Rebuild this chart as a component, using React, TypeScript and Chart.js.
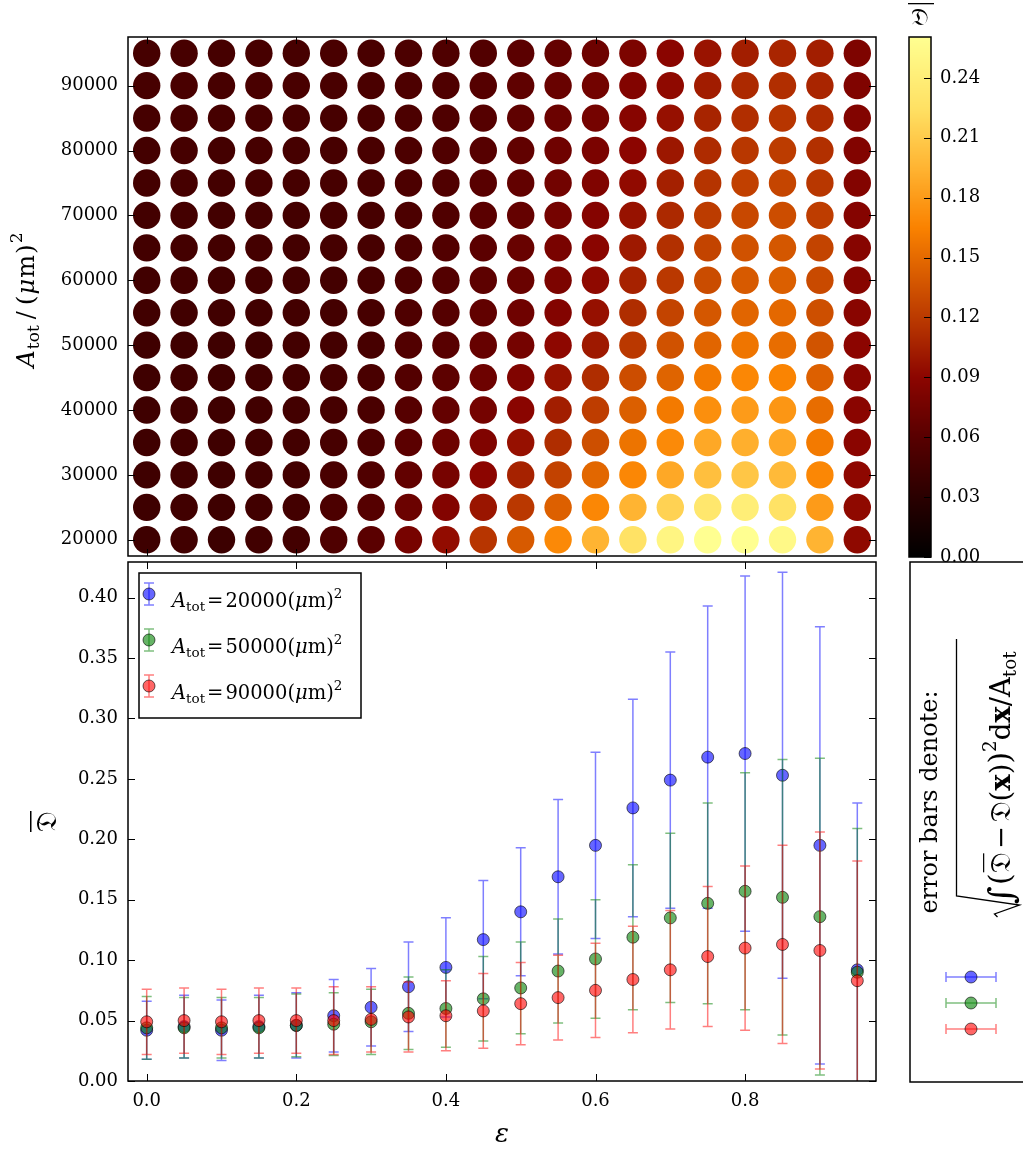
import React, { useEffect, useRef } from "react";
import { Chart, registerables } from "chart.js";

Chart.register(...registerables);

const SERIF = "'DejaVu Serif', 'Liberation Serif', serif";

// ---------------- data ----------------
const epsilonValues = [0, 0.05, 0.1, 0.15, 0.2, 0.25, 0.3, 0.35, 0.4, 0.45, 0.5, 0.55, 0.6, 0.65, 0.7, 0.75, 0.8, 0.85, 0.9, 0.95];
const areaLevels = [20000, 25000, 30000, 35000, 40000, 45000, 50000, 55000, 60000, 65000, 70000, 75000, 80000, 85000, 90000, 95000];

// mean D for every (area, epsilon) cell, one row per area level (bottom to top)
const heatRow20000 = [0.043, 0.045, 0.042, 0.045, 0.046, 0.054, 0.061, 0.078, 0.094, 0.117, 0.140, 0.169, 0.195, 0.226, 0.249, 0.268, 0.271, 0.253, 0.195, 0.092];
const heatRow25000 = [0.043, 0.045, 0.043, 0.045, 0.046, 0.052, 0.058, 0.071, 0.085, 0.099, 0.119, 0.144, 0.168, 0.195, 0.215, 0.232, 0.240, 0.226, 0.180, 0.092];
const heatRow30000 = [0.044, 0.045, 0.044, 0.045, 0.046, 0.050, 0.055, 0.066, 0.078, 0.090, 0.106, 0.125, 0.148, 0.168, 0.188, 0.202, 0.207, 0.199, 0.168, 0.091];
const heatRow35000 = [0.044, 0.045, 0.044, 0.045, 0.046, 0.049, 0.053, 0.062, 0.072, 0.083, 0.096, 0.112, 0.133, 0.156, 0.170, 0.188, 0.192, 0.187, 0.160, 0.089];
const heatRow40000 = [0.044, 0.045, 0.044, 0.045, 0.046, 0.048, 0.051, 0.059, 0.067, 0.077, 0.089, 0.104, 0.122, 0.143, 0.160, 0.173, 0.180, 0.177, 0.152, 0.089];
const heatRow45000 = [0.044, 0.045, 0.044, 0.045, 0.046, 0.048, 0.050, 0.057, 0.063, 0.072, 0.083, 0.097, 0.112, 0.132, 0.146, 0.160, 0.168, 0.166, 0.144, 0.088];
const heatRow50000 = [0.044, 0.044, 0.044, 0.044, 0.046, 0.047, 0.049, 0.056, 0.060, 0.068, 0.077, 0.091, 0.101, 0.119, 0.135, 0.147, 0.157, 0.152, 0.136, 0.090];
const heatRow55000 = [0.045, 0.045, 0.045, 0.045, 0.046, 0.047, 0.049, 0.054, 0.058, 0.065, 0.073, 0.085, 0.096, 0.112, 0.126, 0.138, 0.147, 0.149, 0.133, 0.088];
const heatRow60000 = [0.045, 0.046, 0.045, 0.046, 0.046, 0.047, 0.049, 0.053, 0.057, 0.063, 0.070, 0.081, 0.092, 0.106, 0.119, 0.131, 0.140, 0.143, 0.130, 0.087];
const heatRow65000 = [0.046, 0.047, 0.046, 0.047, 0.047, 0.048, 0.049, 0.053, 0.056, 0.062, 0.069, 0.079, 0.089, 0.101, 0.114, 0.126, 0.135, 0.138, 0.126, 0.087];
const heatRow70000 = [0.046, 0.047, 0.046, 0.047, 0.047, 0.048, 0.049, 0.052, 0.055, 0.061, 0.067, 0.077, 0.086, 0.097, 0.110, 0.121, 0.129, 0.132, 0.122, 0.086];
const heatRow75000 = [0.047, 0.048, 0.047, 0.048, 0.048, 0.049, 0.050, 0.052, 0.055, 0.060, 0.066, 0.075, 0.083, 0.093, 0.105, 0.116, 0.124, 0.127, 0.118, 0.085];
const heatRow80000 = [0.047, 0.048, 0.047, 0.048, 0.048, 0.049, 0.050, 0.052, 0.055, 0.059, 0.065, 0.073, 0.080, 0.090, 0.100, 0.111, 0.118, 0.121, 0.114, 0.084];
const heatRow85000 = [0.048, 0.049, 0.048, 0.049, 0.049, 0.049, 0.050, 0.052, 0.054, 0.058, 0.064, 0.071, 0.077, 0.087, 0.096, 0.107, 0.113, 0.117, 0.111, 0.084];
const heatRow90000 = [0.049, 0.050, 0.049, 0.050, 0.050, 0.050, 0.051, 0.053, 0.054, 0.058, 0.064, 0.069, 0.075, 0.084, 0.092, 0.103, 0.110, 0.113, 0.108, 0.083];
const heatRow95000 = [0.048, 0.049, 0.048, 0.049, 0.049, 0.050, 0.050, 0.052, 0.054, 0.056, 0.062, 0.067, 0.072, 0.081, 0.089, 0.098, 0.104, 0.108, 0.104, 0.082];
const heatRows = [heatRow20000, heatRow25000, heatRow30000, heatRow35000, heatRow40000, heatRow45000, heatRow50000, heatRow55000,
  heatRow60000, heatRow65000, heatRow70000, heatRow75000, heatRow80000, heatRow85000, heatRow90000, heatRow95000];

// spatial mean and its error (bottom panel)
const mean20000 = [0.042, 0.045, 0.042, 0.045, 0.046, 0.054, 0.061, 0.078, 0.094, 0.117, 0.140, 0.169, 0.195, 0.226, 0.249, 0.268, 0.271, 0.253, 0.195, 0.092];
const err20000 = [0.024, 0.026, 0.025, 0.026, 0.027, 0.030, 0.032, 0.037, 0.041, 0.049, 0.053, 0.064, 0.077, 0.090, 0.106, 0.125, 0.147, 0.168, 0.181, 0.138];
const mean50000 = [0.044, 0.044, 0.044, 0.044, 0.046, 0.047, 0.049, 0.056, 0.060, 0.068, 0.077, 0.091, 0.101, 0.119, 0.135, 0.147, 0.157, 0.152, 0.136, 0.090];
const err50000 = [0.026, 0.025, 0.025, 0.025, 0.026, 0.026, 0.027, 0.030, 0.032, 0.035, 0.038, 0.043, 0.049, 0.060, 0.070, 0.083, 0.098, 0.114, 0.131, 0.119];
const mean90000 = [0.049, 0.050, 0.049, 0.050, 0.050, 0.050, 0.051, 0.053, 0.054, 0.058, 0.064, 0.069, 0.075, 0.084, 0.092, 0.103, 0.110, 0.113, 0.108, 0.083];
const err90000 = [0.027, 0.027, 0.027, 0.027, 0.027, 0.028, 0.027, 0.029, 0.029, 0.031, 0.034, 0.035, 0.039, 0.044, 0.049, 0.058, 0.068, 0.082, 0.098, 0.099];
const seriesAreas = ["20000", "50000", "90000"];

// ticks / ranges
const epsTicks = [0, 0.2, 0.4, 0.6, 0.8];
const areaTicks = [20000, 30000, 40000, 50000, 60000, 70000, 80000, 90000];
const meanTicks = [0, 0.05, 0.1, 0.15, 0.2, 0.25, 0.3, 0.35, 0.4];
const colorbarTicks = [0, 0.03, 0.06, 0.09, 0.12, 0.15, 0.18, 0.21, 0.24];
const epsRange = [-0.025, 0.975];
const areaRange = [17500, 97500];
const meanRange = [0, 0.4295];
const colorRange = [0, 0.2605];

// ---------------- styles ----------------
const cmapStops: number[][] = [
  [0.0, 0, 0, 0],
  [0.03, 42, 0, 0],
  [0.06, 88, 0, 0],
  [0.09, 140, 5, 0],
  [0.115, 180, 50, 0],
  [0.14, 215, 90, 0],
  [0.165, 250, 130, 0],
  [0.195, 255, 180, 50],
  [0.225, 255, 225, 100],
  [0.2605, 255, 255, 145],
];

function heatColor(v: number): string {
  const s = cmapStops;
  if (v <= s[0][0]) return `rgb(${s[0][1]},${s[0][2]},${s[0][3]})`;
  for (let i = 1; i < s.length; i++) {
    if (v <= s[i][0]) {
      const t = (v - s[i - 1][0]) / (s[i][0] - s[i - 1][0]);
      const c = [1, 2, 3].map((k) => Math.round(s[i - 1][k] + t * (s[i][k] - s[i - 1][k])));
      return `rgb(${c[0]},${c[1]},${c[2]})`;
    }
  }
  const l = s[s.length - 1];
  return `rgb(${l[1]},${l[2]},${l[3]})`;
}

const seriesFill = ["rgba(0,0,255,0.6)", "rgba(0,128,0,0.6)", "rgba(255,0,0,0.6)"];
const seriesLine = ["rgba(0,0,255,0.5)", "rgba(0,128,0,0.5)", "rgba(255,0,0,0.5)"];
const markerEdge = "rgba(0,0,0,0.6)";

type Part = { t: string; size: number; style?: string; dy?: number; bar?: boolean; gap?: number };

function partFont(p: Part, k: number) {
  return `${p.style ?? ""} ${p.size * k}px ${SERIF}`;
}
function richWidth(ctx: CanvasRenderingContext2D, parts: Part[], k = 1) {
  let w = 0;
  for (const p of parts) {
    ctx.font = partFont(p, k);
    w += ctx.measureText(p.t).width + (p.gap ?? 0) * k;
  }
  return w;
}
function drawRich(ctx: CanvasRenderingContext2D, parts: Part[], x: number, y: number, k = 1) {
  let cx = x;
  for (const p of parts) {
    ctx.font = partFont(p, k);
    const w = ctx.measureText(p.t).width;
    ctx.fillText(p.t, cx, y + (p.dy ?? 0) * k);
    if (p.bar) ctx.fillRect(cx + 1, y + (p.dy ?? 0) * k - p.size * k * 0.98, w - 2, 1.2);
    cx += w + (p.gap ?? 0) * k;
  }
  return cx;
}

function drawFrame(chart: any, xTicks: number[] | null, yTicks: number[] | null, yLeft: boolean, yRight: boolean) {
  const { ctx, chartArea: a, scales } = chart;
  const L = 7;
  ctx.save();
  ctx.strokeStyle = "#000";
  ctx.lineWidth = 1;
  ctx.beginPath();
  if (xTicks) {
    for (const v of xTicks) {
      const px = Math.round(scales.x.getPixelForValue(v)) + 0.5;
      ctx.moveTo(px, a.top);
      ctx.lineTo(px, a.top + L);
      ctx.moveTo(px, a.bottom);
      ctx.lineTo(px, a.bottom - L);
    }
  }
  if (yTicks) {
    for (const v of yTicks) {
      const py = Math.round(scales.y.getPixelForValue(v)) + 0.5;
      if (yLeft) {
        ctx.moveTo(a.left, py);
        ctx.lineTo(a.left + L, py);
      }
      if (yRight) {
        ctx.moveTo(a.right, py);
        ctx.lineTo(a.right - L, py);
      }
    }
  }
  ctx.stroke();
  ctx.lineWidth = 1.5;
  ctx.strokeRect(a.left, a.top, a.right - a.left, a.bottom - a.top);
  ctx.restore();
}

const tickFont = { family: SERIF, size: 18 };

export default function App() {
  const heatRef = useRef<HTMLCanvasElement>(null);
  const meanRef = useRef<HTMLCanvasElement>(null);
  const barRef = useRef<HTMLCanvasElement>(null);

  useEffect(() => {
    const charts: Chart[] = [];

    // ---------- top: heat map of circles ----------
    const heatPoints: { x: number; y: number }[] = [];
    const heatColors: string[] = [];
    areaLevels.forEach((a, r) => {
      epsilonValues.forEach((e, c) => {
        heatPoints.push({ x: e, y: a });
        heatColors.push(heatColor(heatRows[r][c]));
      });
    });

    charts.push(
      new Chart(heatRef.current!, {
        type: "scatter",
        data: {
          datasets: [
            {
              data: heatPoints,
              pointBackgroundColor: heatColors,
              pointBorderWidth: 0,
              pointRadius: 13.7,
              pointHoverRadius: 13.7,
            } as any,
          ],
        },
        options: {
          responsive: false,
          animation: false,
          events: [],
          layout: { padding: { left: 0, top: 37, right: 147, bottom: 594 } },
          plugins: { legend: { display: false }, tooltip: { enabled: false } },
          scales: {
            x: {
              type: "linear",
              min: epsRange[0],
              max: epsRange[1],
              ticks: { display: false },
              grid: { display: false },
              border: { display: false },
              afterFit: (s: any) => { s.height = 0; },
              afterBuildTicks: (s: any) => { s.ticks = epsTicks.map((v) => ({ value: v })); },
            },
            y: {
              type: "linear",
              min: areaRange[0],
              max: areaRange[1],
              ticks: { font: tickFont, color: "#000", padding: 10, autoSkip: false, callback: (v: any) => String(v) },
              grid: { display: false, drawTicks: false },
              border: { display: false },
              afterFit: (s: any) => { s.width = 128; },
              afterBuildTicks: (s: any) => { s.ticks = areaTicks.map((v) => ({ value: v })); },
            },
          },
        } as any,
        plugins: [
          {
            id: "heatFrame",
            afterDraw(chart: any) {
              drawFrame(chart, epsTicks, areaTicks, true, true);
              const ctx = chart.ctx as CanvasRenderingContext2D;
              ctx.save();
              ctx.fillStyle = "#000";
              ctx.textBaseline = "alphabetic";
              const parts: Part[] = [
                { t: "A", size: 24, style: "italic", gap: 1 },
                { t: "tot", size: 17, dy: 5, gap: 6 },
                { t: "/", size: 24, gap: 6 },
                { t: "(", size: 25, gap: 1 },
                { t: "μ", size: 24, style: "italic", gap: 1 },
                { t: "m", size: 24, gap: 1 },
                { t: ")", size: 25, gap: 1 },
                { t: "2", size: 17, dy: -12 },
              ];
              ctx.translate(34, 300);
              ctx.rotate(-Math.PI / 2);
              const w = richWidth(ctx, parts);
              drawRich(ctx, parts, -w / 2, 0);
              ctx.restore();
            },
          },
        ],
      })
    );

    // ---------- bottom: mean with error bars ----------
    const means = [mean20000, mean50000, mean90000];
    const errs = [err20000, err50000, err90000];
    charts.push(
      new Chart(meanRef.current!, {
        type: "scatter",
        data: {
          datasets: means.map((m, i) => ({
            data: epsilonValues.map((e, j) => ({ x: e, y: m[j] })),
            pointBackgroundColor: seriesFill[i],
            pointBorderColor: markerEdge,
            pointBorderWidth: 1,
            pointRadius: 6,
            pointHoverRadius: 6,
            order: 3 - i,
          })) as any,
        },
        options: {
          responsive: false,
          animation: false,
          events: [],
          layout: { padding: { left: 0, top: 562, right: 147, bottom: 0 } },
          plugins: { legend: { display: false }, tooltip: { enabled: false } },
          scales: {
            x: {
              type: "linear",
              min: epsRange[0],
              max: epsRange[1],
              ticks: { font: tickFont, color: "#000", padding: 10, autoSkip: false, maxRotation: 0, callback: (v: any) => Number(v).toFixed(1) },
              grid: { display: false, drawTicks: false },
              border: { display: false },
              afterFit: (s: any) => { s.height = 69; },
              afterBuildTicks: (s: any) => { s.ticks = epsTicks.map((v) => ({ value: v })); },
            },
            y: {
              type: "linear",
              min: meanRange[0],
              max: meanRange[1],
              ticks: { font: tickFont, color: "#000", padding: 10, autoSkip: false, callback: (v: any) => Number(v).toFixed(2) },
              grid: { display: false, drawTicks: false },
              border: { display: false },
              afterFit: (s: any) => { s.width = 128; },
              afterBuildTicks: (s: any) => { s.ticks = meanTicks.map((v) => ({ value: v })); },
            },
          },
        } as any,
        plugins: [
          {
            id: "errorBars",
            beforeDatasetDraw(chart: any, args: any) {
              const i = args.index;
              const ctx = chart.ctx as CanvasRenderingContext2D;
              const a = chart.chartArea;
              const xs = chart.scales.x;
              const ys = chart.scales.y;
              ctx.save();
              ctx.beginPath();
              ctx.rect(a.left, a.top, a.right - a.left, a.bottom - a.top);
              ctx.clip();
              ctx.strokeStyle = seriesLine[i];
              ctx.lineWidth = 1.5;
              epsilonValues.forEach((e, j) => {
                const px = xs.getPixelForValue(e);
                const top = ys.getPixelForValue(means[i][j] + errs[i][j]);
                const bot = ys.getPixelForValue(means[i][j] - errs[i][j]);
                ctx.beginPath();
                ctx.moveTo(px, top);
                ctx.lineTo(px, bot);
                ctx.moveTo(px - 5, top);
                ctx.lineTo(px + 5, top);
                ctx.moveTo(px - 5, bot);
                ctx.lineTo(px + 5, bot);
                ctx.stroke();
              });
              ctx.restore();
            },
            afterDraw(chart: any) {
              drawFrame(chart, epsTicks, meanTicks, true, true);
              const ctx = chart.ctx as CanvasRenderingContext2D;
              const a = chart.chartArea;
              // legend
              ctx.save();
              ctx.fillStyle = "#fff";
              ctx.fillRect(139, 573, 222, 145);
              ctx.strokeStyle = "#000";
              ctx.lineWidth = 1.5;
              ctx.strokeRect(139, 573, 222, 145);
              seriesAreas.forEach((lab, i) => {
                const cy = 594 + i * 46;
                const cx = 149;
                ctx.strokeStyle = seriesLine[i];
                ctx.lineWidth = 1.5;
                ctx.beginPath();
                ctx.moveTo(cx, cy - 11);
                ctx.lineTo(cx, cy + 11);
                ctx.moveTo(cx - 5, cy - 11);
                ctx.lineTo(cx + 5, cy - 11);
                ctx.moveTo(cx - 5, cy + 11);
                ctx.lineTo(cx + 5, cy + 11);
                ctx.stroke();
                ctx.beginPath();
                ctx.arc(cx, cy, 6, 0, Math.PI * 2);
                ctx.fillStyle = seriesFill[i];
                ctx.fill();
                ctx.strokeStyle = markerEdge;
                ctx.lineWidth = 1;
                ctx.stroke();
                ctx.fillStyle = "#000";
                ctx.textBaseline = "alphabetic";
                drawRich(ctx, [
                  { t: "A", size: 19.5, style: "italic" },
                  { t: "tot", size: 13.5, dy: 4, gap: 2 },
                  { t: "=", size: 19.5, gap: 2 },
                  { t: lab + "(", size: 19.5 },
                  { t: "μ", size: 19.5, style: "italic" },
                  { t: "m)", size: 19.5 },
                  { t: "2", size: 13.5, dy: -9 },
                ], 172, cy + 13);
              });
              // axis labels
              ctx.fillStyle = "#000";
              ctx.font = `italic 26px ${SERIF}`;
              ctx.textAlign = "center";
              ctx.fillText("ε", (a.left + a.right) / 2, 1142);
              ctx.translate(56, (a.top + a.bottom) / 2);
              ctx.rotate(-Math.PI / 2);
              ctx.font = `28px ${SERIF}`;
              ctx.fillText("𝔇", 0, 0);
              const w = ctx.measureText("𝔇").width;
              ctx.fillRect(-w / 2, -26, w, 1.5);
              ctx.restore();
            },
          },
        ],
      })
    );

    // ---------- colour bar + explanation box ----------
    charts.push(
      new Chart(barRef.current!, {
        type: "scatter",
        data: { datasets: [] },
        options: {
          responsive: false,
          animation: false,
          events: [],
          layout: { padding: { left: 909, top: 37, right: 0, bottom: 593 } },
          plugins: { legend: { display: false }, tooltip: { enabled: false } },
          scales: {
            x: {
              type: "linear",
              min: 0,
              max: 1,
              ticks: { display: false },
              grid: { display: false },
              border: { display: false },
              afterFit: (s: any) => { s.height = 0; },
            },
            y: {
              type: "linear",
              position: "right",
              min: colorRange[0],
              max: colorRange[1],
              ticks: { font: tickFont, color: "#000", padding: 9, autoSkip: false, callback: (v: any) => Number(v).toFixed(2) },
              grid: { display: false, drawTicks: false },
              border: { display: false },
              afterFit: (s: any) => { s.width = 92; },
              afterBuildTicks: (s: any) => { s.ticks = colorbarTicks.map((v) => ({ value: v })); },
            },
          },
        } as any,
        plugins: [
          {
            id: "colorbar",
            afterDraw(chart: any) {
              const ctx = chart.ctx as CanvasRenderingContext2D;
              const a = chart.chartArea;
              const ys = chart.scales.y;
              ctx.save();
              for (let p = Math.floor(a.top); p < a.bottom; p++) {
                const v = ys.getValueForPixel(p + 0.5);
                ctx.fillStyle = heatColor(v);
                ctx.fillRect(a.left, p, a.right - a.left, 1);
              }
              ctx.restore();
              drawFrame(chart, null, colorbarTicks, false, true);
              ctx.save();
              // colour bar title
              ctx.fillStyle = "#000";
              ctx.font = `24px ${SERIF}`;
              ctx.textAlign = "center";
              ctx.textBaseline = "alphabetic";
              ctx.fillText("𝔇", (a.left + a.right) / 2, 25);
              ctx.fillRect(908, 3, 26, 1.3);

              // explanation box
              ctx.fillStyle = "#fff";
              ctx.fillRect(910, 562, 200, 520);
              ctx.strokeStyle = "#000";
              ctx.lineWidth = 1.5;
              ctx.strokeRect(910, 562, 200, 520);

              ctx.fillStyle = "#000";
              ctx.save();
              ctx.translate(937, 802);
              ctx.rotate(-Math.PI / 2);
              ctx.font = `24px ${SERIF}`;
              ctx.textAlign = "center";
              ctx.fillText("error bars denote:", 0, 0);
              ctx.restore();

              // formula
              const parts: Part[] = [
                { t: "∫", size: 30, style: "italic", dy: 3, gap: 1 },
                { t: "(", size: 26 },
                { t: "𝔇", size: 24, bar: true, gap: 3 },
                { t: "−", size: 24, gap: 3 },
                { t: "𝔇", size: 24 },
                { t: "(", size: 24 },
                { t: "x", size: 24, style: "bold" },
                { t: ")", size: 24 },
                { t: ")", size: 26 },
                { t: "2", size: 16, dy: -12 },
                { t: "d", size: 24 },
                { t: "x", size: 24, style: "bold" },
                { t: "/", size: 24 },
                { t: "A", size: 24 },
                { t: "tot", size: 16, dy: 5 },
              ];
              ctx.save();
              ctx.translate(1010, 904);
              ctx.rotate(-Math.PI / 2);
              ctx.textAlign = "left";
              const w0 = richWidth(ctx, parts);
              const k = 252 / w0;
              drawRich(ctx, parts, 0, 0, k);
              ctx.restore();

              // radical sign
              ctx.save();
              ctx.translate(956.5, 896);
              ctx.rotate(-Math.PI / 2);
              ctx.strokeStyle = "#000";
              ctx.lineWidth = 1.3;
              ctx.beginPath();
              ctx.moveTo(257, 0);
              ctx.lineTo(0, 0);
              ctx.lineTo(-9, 63);
              ctx.lineTo(-18, 38);
              ctx.lineTo(-21, 41);
              ctx.stroke();
              ctx.restore();

              // legend markers
              [977, 1003, 1029].forEach((cy, i) => {
                const cx = 971;
                ctx.strokeStyle = seriesLine[i];
                ctx.lineWidth = 1.5;
                ctx.beginPath();
                ctx.moveTo(cx - 25, cy);
                ctx.lineTo(cx + 25, cy);
                ctx.moveTo(cx - 25, cy - 5);
                ctx.lineTo(cx - 25, cy + 5);
                ctx.moveTo(cx + 25, cy - 5);
                ctx.lineTo(cx + 25, cy + 5);
                ctx.stroke();
                ctx.beginPath();
                ctx.arc(cx, cy, 6, 0, Math.PI * 2);
                ctx.fillStyle = seriesFill[i];
                ctx.fill();
                ctx.strokeStyle = markerEdge;
                ctx.lineWidth = 1;
                ctx.stroke();
              });
              ctx.restore();
            },
          },
        ],
      })
    );

    return () => charts.forEach((c) => c.destroy());
  }, []);

  const cs: React.CSSProperties = { position: "absolute", left: 0, top: 0, width: 1023, height: 1150 };
  return (
    <div style={{ position: "absolute", left: 0, top: 0, width: 1023, height: 1150, background: "#fff", overflow: "hidden" }}>
      <canvas ref={heatRef} width={1023} height={1150} style={cs} />
      <canvas ref={meanRef} width={1023} height={1150} style={cs} />
      <canvas ref={barRef} width={1023} height={1150} style={cs} />
    </div>
  );
}
